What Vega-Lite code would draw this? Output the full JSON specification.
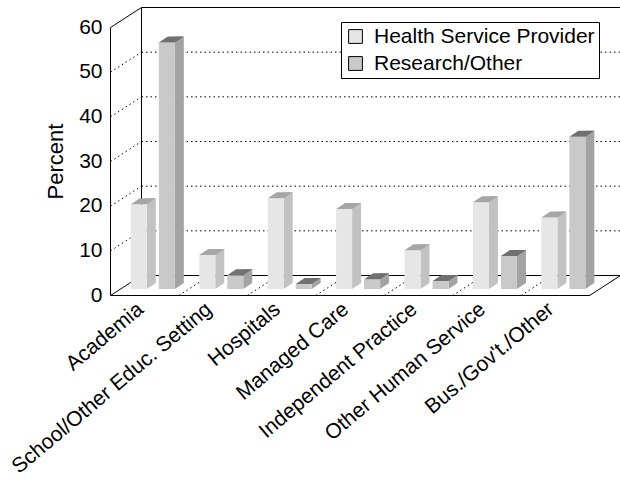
{
  "$schema": "https://vega.github.io/schema/vega-lite/v6.json",
  "width": 479,
  "height": 268,
  "autosize": {"type": "none"},
  "padding": {"left": 120, "top": 21, "right": 21, "bottom": 199},
  "background": "white",
  "config": {
    "view": {"stroke": null},
    "font": "Liberation Sans",
    "axis": {"grid": false, "ticks": false, "domainColor": "black", "domainWidth": 1, "labelColor": "black", "labelFont": "Liberation Sans", "titleFont": "Liberation Sans", "titleColor": "black", "titleFontWeight": "normal"},
    "axisX": {"orient": "bottom", "offset": 15.5, "translate": -9, "labelAngle": -40, "labelFontSize": 21, "labelPadding": 3, "labelOffset": -11, "labelLimit": 400},
    "axisY": {"offset": 16, "translate": 6.5, "labelFontSize": 21, "labelPadding": 8, "titleFontSize": 22, "titlePadding": 11}
  },
  "datasets": {
    "jobs": [
      {"category": "Academia", "series": "Health Service Provider", "value": 19.0},
      {"category": "Academia", "series": "Research/Other", "value": 55.2},
      {"category": "School/Other Educ. Setting", "series": "Health Service Provider", "value": 7.6},
      {"category": "School/Other Educ. Setting", "series": "Research/Other", "value": 3.1},
      {"category": "Hospitals", "series": "Health Service Provider", "value": 20.3},
      {"category": "Hospitals", "series": "Research/Other", "value": 1.1},
      {"category": "Managed Care", "series": "Health Service Provider", "value": 17.9},
      {"category": "Managed Care", "series": "Research/Other", "value": 2.2},
      {"category": "Independent Practice", "series": "Health Service Provider", "value": 8.7},
      {"category": "Independent Practice", "series": "Research/Other", "value": 1.8},
      {"category": "Other Human Service", "series": "Health Service Provider", "value": 19.4},
      {"category": "Other Human Service", "series": "Research/Other", "value": 7.4},
      {"category": "Bus./Gov't./Other", "series": "Health Service Provider", "value": 16.0},
      {"category": "Bus./Gov't./Other", "series": "Research/Other", "value": 34.1}
    ],
    "grid": [{"v": 10}, {"v": 20}, {"v": 30}, {"v": 40}, {"v": 50}],
    "edges": [{"v": 0}, {"v": 60}],
    "one": [{"k": 1}]
  },
  "data": {"name": "jobs"},
  "layer": [
    {
      "data": {"name": "grid"},
      "mark": {"type": "point", "shape": "M0,0L479,0", "filled": false, "color": "black", "strokeWidth": 1, "strokeDash": [1.5, 3], "size": 4, "opacity": 1, "xOffset": 21.5, "yOffset": -13.5},
      "encoding": {
        "x": {"datum": "Academia", "type": "nominal", "bandPosition": 0},
        "y": {"field": "v", "type": "quantitative", "scale": {"domain": [0, 60], "nice": false}}
      }
    },
    {
      "data": {"name": "edges"},
      "mark": {"type": "point", "shape": "M0,0L479,0", "filled": false, "color": "black", "strokeWidth": 1, "size": 4, "opacity": 1, "xOffset": 21.5, "yOffset": -13.5},
      "encoding": {
        "x": {"datum": "Academia", "type": "nominal", "bandPosition": 0},
        "y": {"field": "v", "type": "quantitative"}
      }
    },
    {
      "data": {"name": "one"},
      "mark": {"type": "rule", "color": "black", "strokeWidth": 1, "xOffset": 21.5, "yOffset": -13.5, "y2Offset": -13.5},
      "encoding": {
        "x": {"datum": "Academia", "type": "nominal", "bandPosition": 0},
        "y": {"datum": 0, "type": "quantitative"},
        "y2": {"datum": 60}
      }
    },
    {
      "data": {"name": "grid"},
      "mark": {"type": "point", "shape": "M0,0L31,-20", "filled": false, "color": "black", "strokeWidth": 1, "strokeDash": [1.5, 3], "size": 4, "opacity": 1, "xOffset": -9.5, "yOffset": 6.5},
      "encoding": {
        "x": {"datum": "Academia", "type": "nominal", "bandPosition": 0},
        "y": {"field": "v", "type": "quantitative"}
      }
    },
    {
      "data": {"name": "edges"},
      "mark": {"type": "point", "shape": "M0,0L31,-20", "filled": false, "color": "black", "strokeWidth": 1, "size": 4, "opacity": 1, "xOffset": -9.5, "yOffset": 6.5},
      "encoding": {
        "x": {"datum": "Academia", "type": "nominal", "bandPosition": 0},
        "y": {"field": "v", "type": "quantitative"}
      }
    },
    {
      "transform": [{"filter": "datum.series == 'Health Service Provider' && datum.category != 'Academia'"}],
      "mark": {"type": "point", "shape": "M0,0L31,-20", "filled": false, "color": "black", "strokeWidth": 1, "strokeDash": [1.5, 3], "size": 4, "opacity": 1, "xOffset": -9.5, "yOffset": 6.5},
      "encoding": {
        "x": {"field": "category", "type": "nominal", "sort": null, "bandPosition": 0},
        "y": {"datum": 0, "type": "quantitative"}
      }
    },
    {
      "data": {"name": "one"},
      "mark": {"type": "point", "shape": "M0,0L31,-20", "filled": false, "color": "black", "strokeWidth": 1, "size": 4, "opacity": 1, "xOffset": -9.5, "yOffset": 6.5},
      "encoding": {
        "x": {"datum": "Bus./Gov't./Other", "type": "nominal", "bandPosition": 1},
        "y": {"datum": 0, "type": "quantitative"}
      }
    },
    {
      "transform": [{"filter": "datum.series == 'Health Service Provider'"}],
      "mark": {"type": "bar", "width": 9, "color": "#c2c2c2", "xOffset": -2.9, "yOffset": -6, "y2Offset": -6},
      "encoding": {
        "x": {"field": "category", "type": "nominal", "sort": null},
        "y": {"field": "value", "type": "quantitative"}
      }
    },
    {
      "transform": [{"filter": "datum.series == 'Research/Other'"}],
      "mark": {"type": "bar", "width": 9, "color": "#a3a3a3", "xOffset": 25.1, "yOffset": -6, "y2Offset": -6},
      "encoding": {
        "x": {"field": "category", "type": "nominal", "sort": null},
        "y": {"field": "value", "type": "quantitative"}
      }
    },
    {
      "mark": {"type": "point", "shape": "M8,-6L8,0L17,-6Z", "filled": true, "size": 4, "opacity": 1, "strokeWidth": 0},
      "encoding": {
        "x": {"field": "category", "type": "nominal", "sort": null},
        "xOffset": {"field": "series", "type": "nominal", "scale": {"domain": ["Health Service Provider", "Research/Other"], "paddingInner": 0, "paddingOuter": 0.2214, "align": 0.387}},
        "y": {"datum": 0, "type": "quantitative"},
        "color": {"condition": {"test": "datum.series == 'Research/Other'", "value": "#a3a3a3"}, "value": "#c2c2c2"}
      }
    },
    {
      "mark": {"type": "bar", "width": 16},
      "encoding": {
        "x": {
          "field": "category", "type": "nominal", "sort": null,
          "scale": {"domain": ["Academia", "School/Other Educ. Setting", "Hospitals", "Managed Care", "Independent Practice", "Other Human Service", "Bus./Gov't./Other"], "paddingInner": 0, "paddingOuter": 0},
          "axis": {"title": null}
        },
        "xOffset": {"field": "series", "type": "nominal"},
        "y": {
          "field": "value", "type": "quantitative",
          "scale": {"domain": [0, 60], "nice": false},
          "axis": {"title": "Percent", "values": [0, 10, 20, 30, 40, 50, 60]}
        },
        "color": {
          "field": "series", "type": "nominal",
          "scale": {"domain": ["Health Service Provider", "Research/Other"], "range": ["#e6e6e6", "#c9c9c9"]},
          "legend": {"orient": "none", "legendX": 221, "legendY": 1, "title": null, "symbolType": "square", "symbolSize": 190, "symbolStrokeColor": "black", "symbolStrokeWidth": 1, "symbolOpacity": 1, "labelFontSize": 21, "labelFont": "Liberation Sans", "labelColor": "black", "labelOffset": 8, "labelLimit": 400, "strokeColor": "black", "fillColor": "white", "padding": 4, "rowPadding": 5}
        }
      }
    },
    {
      "mark": {"type": "point", "shape": "M-8,0L8,0L17,-6L1,-6Z", "filled": true, "size": 4, "opacity": 1, "strokeWidth": 0},
      "encoding": {
        "x": {"field": "category", "type": "nominal", "sort": null},
        "xOffset": {"field": "series", "type": "nominal"},
        "y": {"field": "value", "type": "quantitative"},
        "color": {"condition": {"test": "datum.series == 'Research/Other'", "value": "#707070"}, "value": "#a6a6a6"}
      }
    }
  ]
}
